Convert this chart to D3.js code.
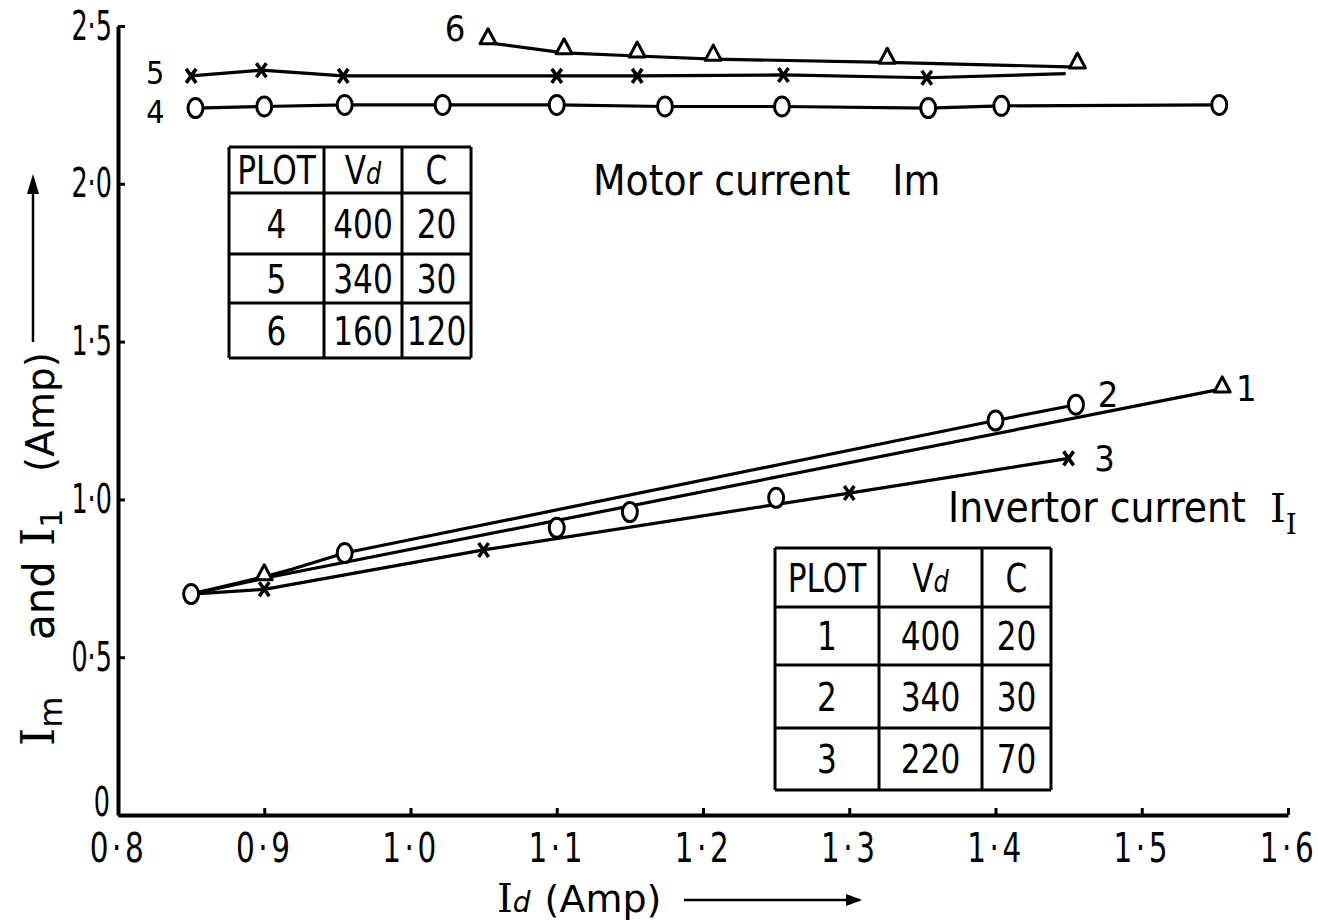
<!DOCTYPE html>
<html>
<head>
<meta charset="utf-8">
<script src="https://cdn.jsdelivr.net/npm/d3@7"></script>
<style>
  body { margin: 0; background: #fff; }
  text { font-family: "DejaVu Sans", sans-serif; fill: #000; }
  .cond { font-family: "DejaVu Sans Condensed", "DejaVu Sans", sans-serif; }
  .serif { font-family: "DejaVu Serif", serif; }
</style>
</head>
<body>
<script>
// axis ticks
var xTicks = [0.8, 0.9, 1.0, 1.1, 1.2, 1.3, 1.4, 1.5, 1.6];
var xTickLabels = ["0·8", "0·9", "1·0", "1·1", "1·2", "1·3", "1·4", "1·5", "1·6"];
var yTicks = [0, 0.5, 1.0, 1.5, 2.0, 2.5];
var yTickLabels = ["0", "0·5", "1·0", "1·5", "2·0", "2·5"];

// motor current Im (plots 4, 5, 6)
var plot4Id = [0.853, 0.90, 0.955, 1.022, 1.10, 1.174, 1.254, 1.354, 1.404, 1.553];
var plot4Im = [2.24, 2.245, 2.25, 2.25, 2.25, 2.245, 2.245, 2.24, 2.247, 2.25];
var plot5Id = [0.85, 0.898, 0.954, 1.10, 1.155, 1.255, 1.353, 1.448];
var plot5Im = [2.342, 2.36, 2.342, 2.342, 2.342, 2.345, 2.336, 2.349];
var plot5Mark = [1, 1, 1, 1, 1, 1, 1, 0];
var plot6Id = [1.053, 1.105, 1.155, 1.207, 1.326, 1.456];
var plot6Im = [2.447, 2.415, 2.405, 2.395, 2.385, 2.37];

// invertor current (plots 1, 2, 3)
var plot1LineId = [0.85, 0.90, 1.555];
var plot1LineI = [0.70, 0.75, 1.35];
var plot1Id = [0.90, 1.555];
var plot1I = [0.755, 1.35];
var plot2LineId = [0.85, 0.90, 0.92, 0.955, 1.40, 1.455];
var plot2LineI = [0.70, 0.755, 0.78, 0.83, 1.25, 1.30];
var plot2Id = [0.85, 0.955, 1.10, 1.15, 1.25, 1.40, 1.455];
var plot2I = [0.70, 0.83, 0.91, 0.96, 1.005, 1.25, 1.30];
var plot3Id = [0.85, 0.90, 1.05, 1.30, 1.45];
var plot3I = [0.70, 0.715, 0.84, 1.02, 1.13];
var plot3Mark = [0, 1, 1, 1, 1];

// tables
var motorTable = [["PLOT", "Vd", "C"], ["4", "400", "20"], ["5", "340", "30"], ["6", "160", "120"]];
var invTable = [["PLOT", "Vd", "C"], ["1", "400", "20"], ["2", "340", "30"], ["3", "220", "70"]];

var W = 1318, H = 920;
var x = d3.scaleLinear().domain([0.8, 1.6]).range([118, 1288]);
var y = d3.scaleLinear().domain([0, 2.5]).range([815, 26]);

var svg = d3.select("body").append("svg").attr("width", W).attr("height", H);

function zip(a, b) { return a.map(function(d, i) { return [d, b[i]]; }); }

// axes
var xAxis = d3.axisBottom(x).tickValues(xTicks)
  .tickFormat(function(d, i) { return xTickLabels[i]; })
  .tickSizeInner(-7).tickSizeOuter(0).tickPadding(18);
var yAxis = d3.axisLeft(y).tickValues(yTicks)
  .tickFormat(function(d, i) { return yTickLabels[i]; })
  .tickSizeInner(-7).tickSizeOuter(0).tickPadding(10);

var gx = svg.append("g").attr("transform", "translate(0," + y(0) + ")").call(xAxis);
var gy = svg.append("g").attr("transform", "translate(" + x(0.8) + ",0)").call(yAxis);
[gx, gy].forEach(function(g) {
  g.select(".domain").attr("stroke", "#000").attr("stroke-width", 4);
  g.selectAll(".tick line").attr("stroke", "#000").attr("stroke-width", 3);
  g.selectAll(".tick text").attr("font-size", 41).attr("fill", "#000")
    .style("font-family", "\"DejaVu Sans\", sans-serif");
});
gy.selectAll(".tick text").attr("transform", function(d) { return d === 0 ? "translate(-2,-13) scale(0.62,1)" : "scale(0.62,1)"; });
gx.selectAll(".tick text").attr("transform", "scale(0.72,1)").attr("letter-spacing", 5);

var line = d3.line().x(function(d) { return x(d[0]); }).y(function(d) { return y(d[1]); });

function drawLine(pts) {
  svg.append("path").datum(pts).attr("d", line)
    .attr("fill", "none").attr("stroke", "#000").attr("stroke-width", 3.2)
    .attr("stroke-linejoin", "round");
}

function circles(pts) {
  svg.append("g").selectAll("ellipse").data(pts).enter().append("ellipse")
    .attr("cx", function(d) { return x(d[0]); })
    .attr("cy", function(d) { return y(d[1]); })
    .attr("rx", 7.5).attr("ry", 9.5)
    .attr("fill", "#fff").attr("stroke", "#000").attr("stroke-width", 3);
}

function crosses(pts) {
  svg.append("g").selectAll("path").data(pts).enter().append("path")
    .attr("d", "M-5,-7L5,7M5,-7L-5,7")
    .attr("transform", function(d) { return "translate(" + x(d[0]) + "," + y(d[1]) + ")"; })
    .attr("stroke", "#000").attr("stroke-width", 3.5).attr("fill", "none");
}

function triangles(pts, dy) {
  svg.append("g").selectAll("path").data(pts).enter().append("path")
    .attr("d", "M0,-10L8,5L-8,5Z")
    .attr("transform", function(d) { return "translate(" + x(d[0]) + "," + (y(d[1]) + dy) + ")"; })
    .attr("fill", "#fff").attr("stroke", "#000").attr("stroke-width", 3)
    .attr("stroke-linejoin", "round");
}

// motor current curves
var p4 = zip(plot4Id, plot4Im), p5 = zip(plot5Id, plot5Im), p6 = zip(plot6Id, plot6Im);
drawLine(p4); drawLine(p5); drawLine(p6);
circles(p4);
crosses(p5.filter(function(d, i) { return plot5Mark[i]; }));
triangles(p6, -4);

// invertor current curves
drawLine(zip(plot1LineId, plot1LineI));
drawLine(zip(plot2LineId, plot2LineI));
var p3 = zip(plot3Id, plot3I);
drawLine(p3);
circles(zip(plot2Id, plot2I));
triangles(zip(plot1Id, plot1I), -2);
crosses(p3.filter(function(d, i) { return plot3Mark[i]; }));

// curve numbers
function label(t, px, py, size) {
  svg.append("text").attr("class", "cond").attr("x", px).attr("y", py).attr("font-size", size)
    .attr("text-anchor", "middle").attr("dominant-baseline", "central").text(t);
}
label("4", x(plot4Id[0]) - 40, y(plot4Im[0]) + 4, 32);
label("5", x(plot5Id[0]) - 36, y(plot5Im[0]) - 3, 32);
label("6", x(plot6Id[0]) - 33, y(plot6Im[0]) - 14, 36);
label("1", x(plot1Id[1]) + 24, y(plot1I[1]), 36);
label("2", x(plot2Id[6]) + 32, y(plot2I[6]) - 10, 36);
label("3", x(plot3Id[4]) + 36, y(plot3I[4]), 36);

// tables
function table(data, cols, rows) {
  var g = svg.append("g");
  rows.forEach(function(r) {
    g.append("line").attr("x1", cols[0]).attr("x2", cols[cols.length - 1])
      .attr("y1", r).attr("y2", r).attr("stroke", "#000").attr("stroke-width", 3);
  });
  cols.forEach(function(c) {
    g.append("line").attr("x1", c).attr("x2", c)
      .attr("y1", rows[0]).attr("y2", rows[rows.length - 1]).attr("stroke", "#000").attr("stroke-width", 3);
  });
  data.forEach(function(row, i) {
    row.forEach(function(cell, j) {
      var t = g.append("text")
        .attr("transform", "translate(" + ((cols[j] + cols[j + 1]) / 2) + "," + ((rows[i] + rows[i + 1]) / 2 + 14) + ") scale(0.8,1)")
        .attr("text-anchor", "middle").attr("font-size", 39);
      if (cell === "Vd") {
        t.append("tspan").text("V");
        t.append("tspan").attr("font-size", 30).attr("font-style", "italic").text("d");
      } else {
        t.text(cell);
      }
    });
  });
}
table(motorTable, [229, 324, 402, 471], [147, 193, 254, 303, 358]);
table(invTable, [775, 879, 982, 1051], [548, 607, 665, 728, 790]);

// annotations
var mt = svg.append("text").attr("class", "cond").attr("x", 593).attr("y", 195).attr("font-size", 42);
mt.append("tspan").text("Motor current");
mt.append("tspan").attr("dx", 42).text("Im");

var it = svg.append("text").attr("class", "cond").attr("x", 948).attr("y", 522).attr("font-size", 42);
it.append("tspan").text("Invertor current");
var iI = svg.append("text").attr("class", "serif").attr("x", 1270).attr("y", 522).attr("font-size", 40);
iI.append("tspan").text("I");
iI.append("tspan").attr("font-size", 28).attr("dy", 12).text("I");

// axis titles
var xt = svg.append("text").attr("x", 497).attr("y", 912).attr("font-size", 40);
xt.append("tspan").attr("class", "serif").text("I");
xt.append("tspan").attr("font-size", 28).attr("font-style", "italic").text("d");
xt.append("tspan").attr("dx", 14).attr("font-size", 38).text("(Amp)");

svg.append("line").attr("x1", 684).attr("x2", 860).attr("y1", 900).attr("y2", 900)
  .attr("stroke", "#000").attr("stroke-width", 2.5);
svg.append("path").attr("d", "M846,894L862,900L846,906Z").attr("fill", "#000");

function yTitlePart(py) {
  return svg.append("text").attr("transform", "translate(54," + py + ") rotate(-90)").attr("font-size", 42);
}
var t1 = yTitlePart(746);
t1.append("tspan").attr("class", "serif").attr("font-size", 46).text("I");
t1.append("tspan").attr("font-size", 32).attr("dy", 8).text("m");
yTitlePart(640).text("and");
var t3 = yTitlePart(546);
t3.append("tspan").attr("class", "serif").attr("font-size", 46).text("I");
t3.append("tspan").attr("font-size", 30).attr("dy", 8).text("1");
yTitlePart(472).attr("font-size", 39).text("(Amp)");

svg.append("line").attr("x1", 33).attr("x2", 33).attr("y1", 342).attr("y2", 182)
  .attr("stroke", "#000").attr("stroke-width", 2.5);
svg.append("path").attr("d", "M27,194L33,174L39,194Z").attr("fill", "#000");
</script>
</body>
</html>
